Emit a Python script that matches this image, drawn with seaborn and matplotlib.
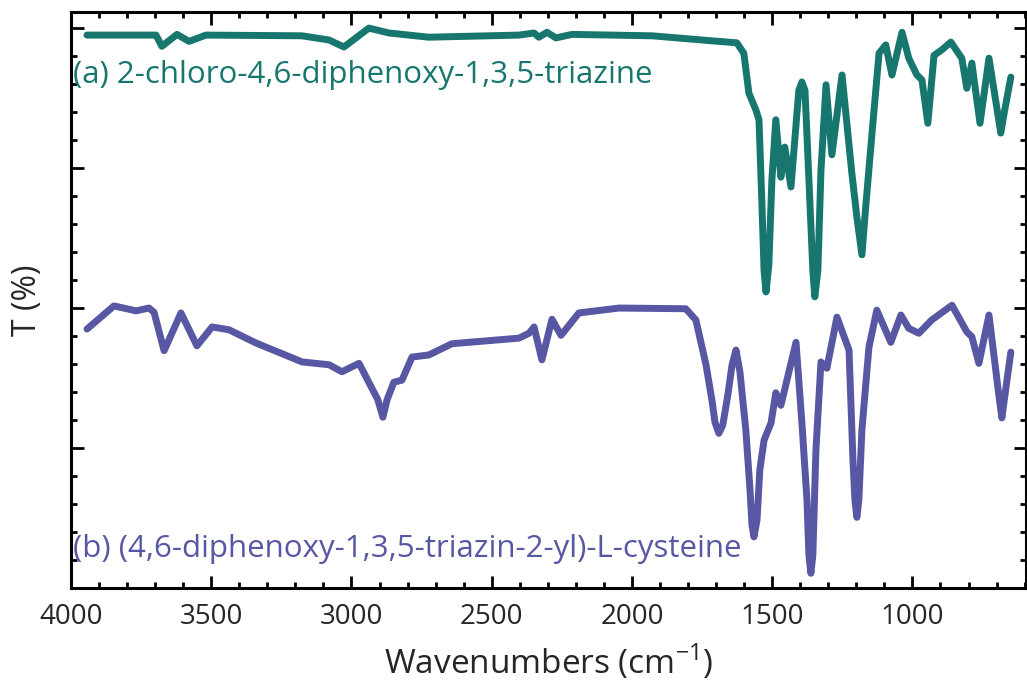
import matplotlib
matplotlib.use("Agg")
import matplotlib.pyplot as plt
import seaborn as sns
import numpy as np
from matplotlib.ticker import MultipleLocator

# ---------------- data ----------------
wn_a = [3943, 3697, 3676, 3622, 3579, 3519, 3177, 3080, 3027, 2938, 2866, 2724,
        2403, 2349, 2332, 2303, 2271, 2214, 1929, 1690, 1626, 1601, 1583, 1558,
        1547, 1537, 1529, 1522, 1512, 1501, 1487, 1469, 1455, 1433, 1405, 1394,
        1383, 1369, 1355, 1348, 1337, 1326, 1308, 1287, 1251, 1216, 1198,
        1180, 1166, 1144, 1119, 1095, 1073, 1037, 1013, 984, 966, 945, 923, 895, 863,
        824, 806, 788, 759, 727, 695, 685, 674, 649]
t_a = [79.0, 79.0, 77.4, 79.1, 78.1, 79.0, 78.9, 78.3, 77.3, 80.0, 79.3, 78.7,
       79.0, 79.3, 78.7, 79.4, 78.6, 79.1, 78.9, 78.1, 77.9, 76.4, 70.7, 68.3,
       66.9, 55.4, 45.4, 42.3, 46.1, 58.3, 66.9, 58.7, 63.0, 57.3, 71.1, 72.3,
       71.1, 58.3, 45.4, 41.6, 45.4, 59.7, 71.9, 61.9, 73.3, 59.3, 53.0,
       47.6, 54.7, 65.0, 76.4, 77.6, 73.3, 79.4, 75.7, 73.3, 72.6, 66.4, 76.1, 76.9, 78.0,
       75.7, 71.4, 75.0, 66.4, 75.7, 67.6, 65.0, 67.6, 73.0]

wn_b = [3943, 3847, 3768, 3722, 3704, 3668, 3608, 3551, 3497, 3437, 3340, 3176,
        3080, 3034, 2973, 2906, 2888, 2873, 2849, 2820, 2784, 2724, 2642, 2403, 2367, 2349,
        2321, 2285, 2253, 2189, 2046, 1808, 1772, 1736, 1715, 1704, 1690, 1676, 1658,
        1643, 1629, 1615, 1594, 1579, 1572, 1565, 1554, 1544,
        1529, 1504, 1487, 1469, 1415, 1394, 1376, 1369, 1362, 1355, 1344, 1326, 1305,
        1269, 1226, 1212, 1205, 1198, 1191, 1180,
        1155, 1127, 1077, 1041, 1013, 977, 931, 859, 806, 788, 763, 727, 692, 681, 670, 649]
t_b = [37.0, 40.3, 39.6, 40.0, 39.4, 33.9, 39.3, 34.6, 37.3, 36.9, 35.0, 32.3,
       31.9, 30.9, 32.1, 26.9, 24.4, 26.9, 29.4, 29.7, 33.0, 33.3, 34.9, 35.7, 36.4, 37.3,
       32.6, 38.4, 36.1, 39.3, 40.0, 39.9, 38.3, 31.9, 26.9, 23.7, 22.1, 23.3, 27.6,
       31.9, 34.0, 30.9, 22.6, 14.0, 9.0, 7.3, 9.7, 16.9,
       21.1, 23.6, 27.9, 26.1, 35.1, 23.6, 12.6, 4.7, 2.1, 4.7, 19.7, 32.3, 31.4,
       38.7, 34.0, 18.3, 12.6, 10.1, 12.6, 22.6,
       34.4, 39.7, 35.1, 39.0, 37.1, 36.4, 38.3, 40.4, 36.6, 35.9, 32.1, 39.0, 27.6, 24.3, 27.6, 33.7]

label_a = "(a) 2-chloro-4,6-diphenoxy-1,3,5-triazine"
label_b = "(b) (4,6-diphenoxy-1,3,5-triazin-2-yl)-L-cysteine"
x_ticks = [4000, 3500, 3000, 2500, 2000, 1500, 1000]

# ---------------- style ----------------
sns.set_style("ticks")
plt.rcParams['font.family'] = ['Open Sans', 'DejaVu Sans']

teal = "#17776f"
purple = "#5757a3"

fig = plt.figure(figsize=(10.27, 6.87), dpi=100)
ax = fig.add_axes([71/1027, 1 - 588/687, (1026 - 71)/1027, (588 - 12)/687])

sns.lineplot(x=wn_a, y=t_a, ax=ax, color=teal, linewidth=5.0, sort=False,
             estimator=None, solid_joinstyle='round', solid_capstyle='round')
sns.lineplot(x=wn_b, y=t_b, ax=ax, color=purple, linewidth=5.0, sort=False,
             estimator=None, solid_joinstyle='round', solid_capstyle='round')

ax.set_xlim(4000, 595)
ax.set_ylim(0, 82.3)

ax.set_xticks(x_ticks)
ax.set_xticklabels([str(v) for v in x_ticks], fontsize=20)
ax.xaxis.set_minor_locator(MultipleLocator(100))
ax.yaxis.set_major_locator(MultipleLocator(20))
ax.yaxis.set_minor_locator(MultipleLocator(4))
ax.set_yticklabels([])

ax.tick_params(axis='both', which='major', direction='in', length=9, width=2,
               top=True, right=True, color='black')
ax.tick_params(axis='both', which='minor', direction='in', length=4.5, width=2,
               top=True, right=True, color='black')
ax.tick_params(axis='x', pad=11)

for s in ax.spines.values():
    s.set_linewidth(2.2)
    s.set_color('black')
    s.set_visible(True)

ax.set_xlabel("Wavenumbers (cm$^{\\mathregular{-1}}$)", fontsize=24, labelpad=8)
ax.set_ylabel("T (%)", fontsize=23, labelpad=16)

ax.text(3993, 73.3, label_a, color=teal, fontsize=22.5, va='center', ha='left')
ax.text(3993, 5.6, label_b, color=purple, fontsize=22.5, va='center', ha='left')

fig.savefig("out.png", dpi=100)
